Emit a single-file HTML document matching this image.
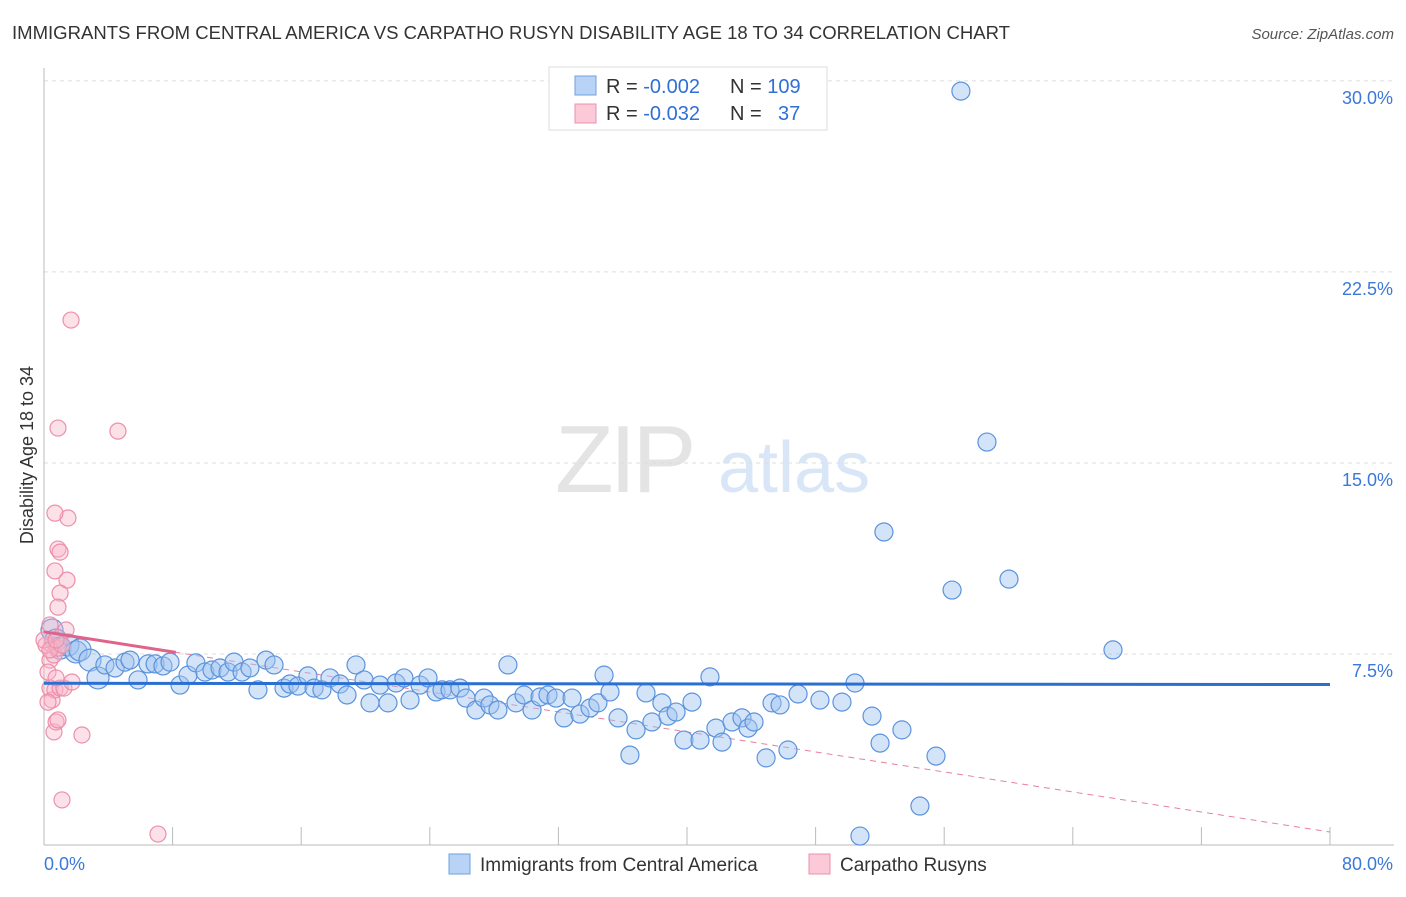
<!DOCTYPE html>
<html><head><meta charset="utf-8"><style>
body{margin:0;background:#fff;font-family:"Liberation Sans",sans-serif;}
svg text{font-family:"Liberation Sans",sans-serif;}
</style></head><body>
<svg id="chart" width="1406" height="892" viewBox="0 0 1406 892">
<text x="12" y="39" font-size="18" fill="#333" textLength="998" lengthAdjust="spacingAndGlyphs">IMMIGRANTS FROM CENTRAL AMERICA VS CARPATHO RUSYN DISABILITY AGE 18 TO 34 CORRELATION CHART</text>
<text x="1394" y="39" font-size="15" fill="#555" font-style="italic" text-anchor="end">Source: ZipAtlas.com</text>
<text transform="translate(33,455) rotate(-90)" font-size="18" fill="#333" text-anchor="middle">Disability Age 18 to 34</text>
<g><text x="555" y="492" font-size="96" fill="#e4e4e4" font-family="Liberation Serif" letter-spacing="-4">ZIP</text><text x="718" y="492" font-size="72" fill="#d8e6f7">atlas</text></g>
<g id="grid"></g><g id="axes"></g><g id="trend"></g><g id="pts"></g>
<g>
<rect x="549" y="67" width="278" height="63" fill="#fff" stroke="#ddd"/>
<rect x="575" y="76" width="21" height="19" fill="#b8d3f5" stroke="#6fa0e0"/>
<rect x="575" y="104" width="21" height="19" fill="#fcc9d8" stroke="#ee8fab"/>
<text x="606" y="93" font-size="20" fill="#333">R = <tspan fill="#2f6fd6">-0.002</tspan><tspan x="730">N = </tspan><tspan fill="#2f6fd6">109</tspan></text>
<text x="606" y="120" font-size="20" fill="#333">R = <tspan fill="#2f6fd6"> -0.032</tspan><tspan x="730">N = </tspan><tspan fill="#2f6fd6" x="778">37</tspan></text>
</g>
<g>
<rect x="449" y="854" width="21" height="20" fill="#b8d3f5" stroke="#6fa0e0"/>
<text x="480" y="871" font-size="19" fill="#333">Immigrants from Central America</text>
<rect x="809" y="854" width="21" height="20" fill="#fcc9d8" stroke="#ee8fab"/>
<text x="840" y="871" font-size="19" fill="#333">Carpatho Rusyns</text>
</g>
</svg>
<script>
const yTicks=[7.5,15,22.5,30];
const yTickLabels=["7.5%","15.0%","22.5%","30.0%"];
const xTicks=[0,8,16,24,32,40,48,56,64,72,80];
const blueX=[0.50,0.75,1.0,1.49,1.99,2.24,2.86,3.36,3.79,4.42,5.04,5.35,5.85,6.47,6.91,7.40,7.84,8.46,8.96,9.45,10.01,10.45,10.95,11.45,11.82,12.32,12.81,13.31,13.81,14.31,14.93,15.30,15.80,16.42,16.80,17.29,17.79,18.41,18.85,19.41,19.91,20.28,20.90,21.40,21.90,22.39,22.77,23.39,23.89,24.39,24.76,25.26,25.88,26.25,26.87,27.37,27.74,28.24,28.86,29.36,29.86,30.36,30.86,31.35,31.85,32.35,32.85,33.34,33.97,34.46,34.84,35.21,35.71,36.45,36.83,37.45,37.82,38.44,38.82,39.32,39.81,40.31,40.81,41.43,41.80,42.18,42.80,43.42,43.80,44.17,44.92,45.29,45.79,46.28,46.91,48.27,49.64,50.45,50.76,51.51,52.01,52.25,53.37,54.49,55.49,56.49,57.04,58.66,60.03,66.50];
const blueY=[8.44,8.05,7.73,7.85,7.58,7.66,7.26,6.56,7.07,6.95,7.18,7.26,6.48,7.11,7.11,7.03,7.18,6.28,6.67,7.15,6.79,6.87,6.95,6.79,7.18,6.79,6.95,6.09,7.26,7.07,6.16,6.32,6.24,6.64,6.16,6.09,6.56,6.32,5.89,7.07,6.48,5.58,6.28,5.58,6.36,6.56,5.69,6.28,6.56,6.01,6.09,6.09,6.16,5.77,5.30,5.77,5.50,5.30,7.07,5.58,5.89,5.30,5.81,5.89,5.77,4.99,5.77,5.14,5.38,5.58,6.67,6.01,4.99,3.53,4.52,5.97,4.83,5.58,5.06,5.22,4.12,5.61,4.12,6.60,4.59,4.04,4.83,4.99,4.59,4.83,3.42,5.58,5.50,3.73,5.93,5.69,5.61,6.36,0.35,5.06,4.00,12.29,4.52,1.53,3.49,10.01,29.60,15.82,10.44,7.66];
const pinkX=[0.37,0.50,0.37,0.25,0.37,0.50,0.68,1.0,1.24,1.74,0.75,0.62,0.75,0.87,2.36,1.12,7.09,1.68,4.60,0.87,1.49,0.68,0.87,1.0,1.43,0.68,1.0,0.87,1.37,0.62,0.87,0.12,0.25,0,0.37,1.12,0.75];
const pinkY=[8.64,7.85,7.26,6.79,6.16,5.69,6.09,6.16,6.16,6.40,6.56,4.44,4.83,4.91,4.32,1.77,0.43,20.61,16.25,16.37,12.84,13.03,11.62,11.50,10.40,10.76,9.89,9.34,8.44,7.46,7.73,7.85,5.61,8.05,7.66,7.85,8.05];
const blueTrend=[6.35,6.30];
const pinkTrend=[8.37,0.51];
const X0=44,X1=1330,Y0=845,YS=25.47;
const sx=v=>X0+(X1-X0)*v/80, sy=v=>Y0-v*YS;
const NS="http://www.w3.org/2000/svg";
function mk(tag,attrs,parent){const e=document.createElementNS(NS,tag);for(const k in attrs)e.setAttribute(k,attrs[k]);document.getElementById(parent).appendChild(e);return e;}
yTicks.forEach((t,i)=>{
 const g=mk('line',{x1:X0,x2:1394,y1:sy(t),y2:sy(t),stroke:'#ddd','stroke-dasharray':'4,4'},'grid');
 
 
 const l=mk('text',{x:1393,y:sy(t)+23,'font-size':18,fill:'#3b78d8','text-anchor':'end'},'axes');
 l.textContent=yTickLabels[i];
 
 
});
const ax=mk('line',{x1:X0,x2:X0,y1:68,y2:Y0,stroke:'#bbb'},'axes');


const bx=mk('line',{x1:X0,x2:1394,y1:Y0,y2:Y0,stroke:'#bbb'},'axes');


xTicks.forEach(t=>{
 const tk=mk('line',{x1:sx(t),x2:sx(t),y1:Y0,y2:Y0-18,stroke:'#bbb'},'axes');
 
 
});
const xl0=mk('text',{x:44,y:870,'font-size':18,fill:'#3b78d8'},'axes');xl0.textContent='0.0%';


const xl1=mk('text',{x:1393,y:870,'font-size':18,fill:'#3b78d8','text-anchor':'end'},'axes');xl1.textContent='80.0%';


blueX.forEach((v,i)=>{
 const c=mk('circle',{cx:sx(v),cy:sy(blueY[i]),r:(i<8?11:9),fill:'rgba(160,196,240,0.45)',stroke:'#5b93dd','stroke-width':1.2},'pts');
 
 
});
pinkX.forEach((v,i)=>{
 const c=mk('circle',{cx:sx(v),cy:sy(pinkY[i]),r:8,fill:'rgba(250,180,200,0.4)',stroke:'#ec8fab','stroke-width':1.2},'pts');
 
 
});
const pd=mk('line',{x1:sx(0),y1:sy(pinkTrend[0]),x2:sx(80),y2:sy(pinkTrend[1]),stroke:'#e7809f','stroke-width':1,'stroke-dasharray':'6,5'},'trend');


const xe=8.2,pe=pinkTrend[0]+(pinkTrend[1]-pinkTrend[0])*xe/80;
const ps=mk('line',{x1:sx(0),y1:sy(pinkTrend[0]),x2:sx(xe),y2:sy(pe),stroke:'#e0638a','stroke-width':3},'pts');


const bt=mk('line',{x1:sx(0),y1:sy(blueTrend[0]),x2:sx(80),y2:sy(blueTrend[1]),stroke:'#2a6fd1','stroke-width':3},'pts');


</script>
</body></html>
